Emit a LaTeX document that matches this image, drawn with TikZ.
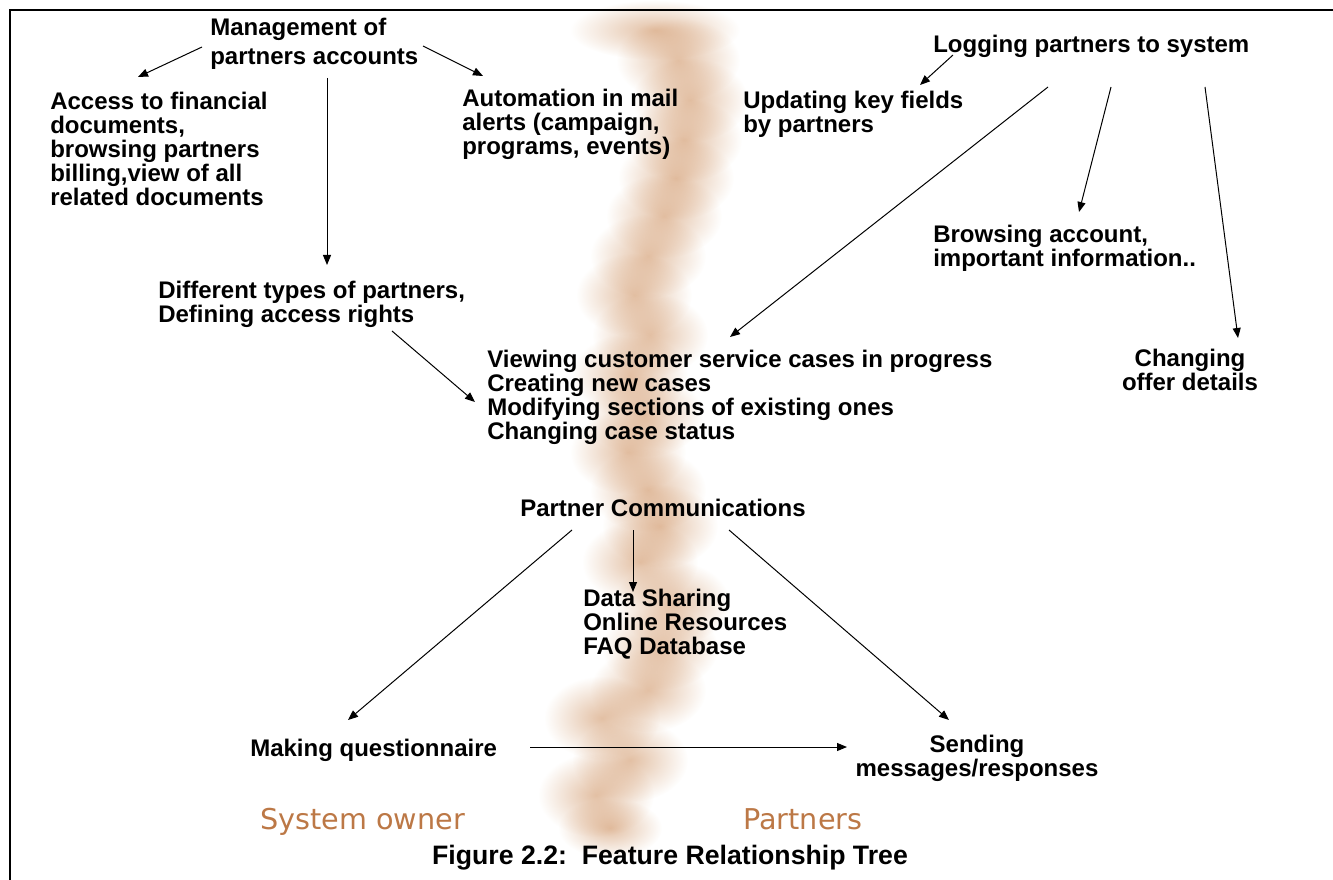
\documentclass[tikz,border=0pt]{standalone}
\usepackage{fontspec}
\setmainfont{Liberation Sans}
\newfontfamily\sidefont{DejaVu Sans}
\usetikzlibrary{arrows.meta,fadings}

\definecolor{bandcol}{RGB}{198,128,72}
\definecolor{sidecol}{RGB}{188,120,70}

% soft round spot used to build the blurred band
\tikzfading[name=blobfade, inner color=transparent!50, outer color=transparent!100]

\begin{document}
\begin{tikzpicture}[x=0.75pt,y=-0.75pt,
  txt/.style={font=\bfseries\fontsize{18}{18}\selectfont, inner sep=0pt, align=left, anchor=base west},
  ctxt/.style={font=\bfseries\fontsize{18}{18}\selectfont, inner sep=0pt, align=center, anchor=base},
  side/.style={font=\sidefont\fontsize{21.5}{21.5}\selectfont, text=sidecol, inner sep=0pt, anchor=base west},
  arr/.style={-{Triangle[length=7.5pt,width=6pt]}, line width=0.75pt},
  frame/.style={line width=1.8pt}
]
\useasboundingbox (0,0) rectangle (1333,880);

% blurred dividing band
\foreach \cx/\cy/\rx/\ry in {
  655/30/85/30, 678/60/62/42, 690/100/58/42, 684/140/58/42, 676/178/58/42,
  664/216/58/42, 648/256/58/42, 634/295/58/42, 650/335/58/42, 630/375/58/42,
  645/415/58/42, 628/452/58/42, 648/490/58/42, 660/526/58/42, 640/562/58/42,
  672/603/58/42, 660/648/58/42, 648/690/58/42, 602/718/58/42, 630/760/58/42,
  596/795/58/42, 610/828/52/30}
  \fill[bandcol, path fading=blobfade]
    (\cx,\cy) ellipse [x radius={\rx*0.75pt}, y radius={\ry*0.75pt}];

% frame
\draw[frame] (10,880) -- (10,10) -- (1333,10);

% feature nodes (anchored on the baseline of their last line)
\node[txt, font=\bfseries\fontsize{18}{21.75}\selectfont] (mgmt) at (210,65)
  {Management of\\partners accounts};
\node[txt] (access) at (50,206)
  {Access to financial\\documents,\\browsing partners\\billing,view of all\\related documents};
\node[txt] (auto) at (462,155)
  {Automation in mail\\alerts (campaign,\\programs, events)};
\node[txt] (logging) at (933,53) {Logging partners to system};
\node[txt] (update) at (743,133) {Updating key fields\\by partners};
\node[txt] (browse) at (933,267) {Browsing account,\\important information..};
\node[txt] (types) at (158,322) {Different types of partners,\\Defining access rights};
\node[txt] (cases) at (487,439)
  {Viewing customer service cases in progress\\Creating new cases\\Modifying sections of existing ones\\Changing case status};
\node[ctxt] (offer) at (1190,390) {Changing\\offer details};
\node[txt] (comm) at (520,516) {Partner Communications};
\node[txt] (data) at (583,654) {Data Sharing\\Online Resources\\FAQ Database};
\node[txt] (quest) at (250,756) {Making questionnaire};
\node[ctxt] (send) at (977,776) {Sending\\messages/responses};

% side labels and caption
\node[side] (owner) at (260,829) {System owner};
\node[side] (partners) at (743,829) {Partners};
\node[font=\bfseries\fontsize{20}{20}\selectfont, inner sep=0pt, anchor=base] (caption) at (670,864)
  {Figure 2.2:\ \ Feature Relationship Tree};

% connector end points
\coordinate (m1) at (202,47);   \coordinate (a1) at (138,77);
\coordinate (m2) at (423,46);   \coordinate (u1) at (483,76);
\coordinate (m3) at (327,78);   \coordinate (t1) at (327,265);
\coordinate (l1) at (953,55);   \coordinate (k1) at (920,85);
\coordinate (l2) at (1048,87);  \coordinate (c1) at (730,337);
\coordinate (l3) at (1111,87);  \coordinate (b1) at (1079,212);
\coordinate (l4) at (1205,87);  \coordinate (o1) at (1238,338);
\coordinate (t2) at (392,331);  \coordinate (c2) at (475,402);
\coordinate (p1) at (572,530);  \coordinate (q1) at (348,720);
\coordinate (p2) at (633,530);  \coordinate (d1) at (633,592);
\coordinate (p3) at (729,530);  \coordinate (s1) at (949,720);
\coordinate (q2) at (530,747);  \coordinate (s2) at (847,747);

% connectors
\draw[arr] (m1) -- (a1);
\draw[arr] (m2) -- (u1);
\draw[arr] (m3) -- (t1);
\draw[arr] (l1) -- (k1);
\draw[arr] (l2) -- (c1);
\draw[arr] (l3) -- (b1);
\draw[arr] (l4) -- (o1);
\draw[arr] (t2) -- (c2);
\draw[arr] (p1) -- (q1);
\draw[arr] (p2) -- (d1);
\draw[arr] (p3) -- (s1);
\draw[arr] (q2) -- (s2);
\end{tikzpicture}
\end{document}
